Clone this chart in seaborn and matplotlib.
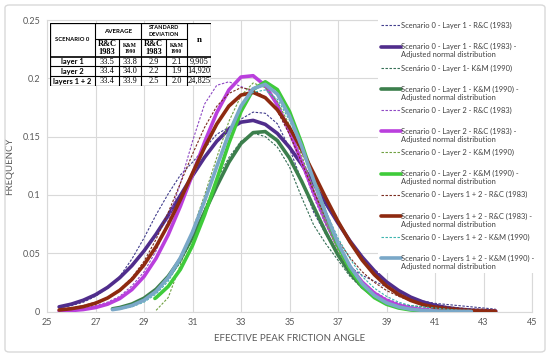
import numpy as np
import matplotlib.pyplot as plt
import seaborn as sns
from matplotlib.legend_handler import HandlerLine2D
from matplotlib.lines import Line2D
from matplotlib.patches import FancyBboxPatch, Rectangle


# ==================================================
# DATA
# ==================================================
# x grids
X_RC = [25.5, 26.0, 26.5, 27.0, 27.5, 28.0, 28.5, 29.0, 29.5, 30.0, 30.5, 31.0,
        31.5, 32.0, 32.5, 33.0, 33.5, 34.0, 34.5, 35.0, 35.5, 36.0, 36.5, 37.0,
        37.5, 38.0, 38.5, 39.0, 39.5, 40.0, 40.5, 41.0, 41.5, 42.0, 42.5, 43.0, 43.5]
X_KM1 = [27.7, 28.0, 28.5, 29.0, 29.5, 30.0, 30.5, 31.0, 31.5, 32.0, 32.5, 33.0,
         33.5, 34.0, 34.5, 35.0, 35.5, 36.0, 36.5, 37.0, 37.5, 38.0, 38.5, 39.0,
         39.5, 40.0, 40.5, 41.0, 41.5, 42.0]
X_KM12 = X_KM1 + [42.5]
X_KM2_FIT = [29.45, 29.5, 30.0, 30.5, 31.0, 31.5, 32.0, 32.5, 33.0, 33.5, 34.0, 34.5,
             35.0, 35.5, 36.0, 36.5, 37.0, 37.5, 38.0, 38.5, 39.0, 39.5, 40.0, 40.3]
X_KM2 = [29.5, 30.0, 30.5, 31.0, 31.5, 32.0, 32.5, 33.0, 33.5, 34.0, 34.5, 35.0,
         35.5, 36.0, 36.5, 37.0, 37.5, 38.0, 38.5, 39.0, 39.5, 40.0]

# layer 1
l1_rc = [0.003, 0.005, 0.008, 0.013, 0.020, 0.030, 0.045, 0.063, 0.083, 0.101, 0.117, 0.128,
         0.140, 0.152, 0.158, 0.165, 0.171, 0.170, 0.161, 0.140, 0.112, 0.085, 0.066, 0.050,
         0.038, 0.031, 0.026, 0.021, 0.016, 0.012, 0.009, 0.007, 0.006, 0.005, 0.004, 0.003, 0.002]
l1_rc_fit = [0.0040, 0.0063, 0.0097, 0.0144, 0.0207, 0.0290, 0.0393, 0.0519, 0.0664, 0.0825,
             0.0995, 0.1165, 0.1323, 0.1460, 0.1563, 0.1624, 0.1639, 0.1605, 0.1527, 0.1408,
             0.1262, 0.1097, 0.0927, 0.0759, 0.0603, 0.0466, 0.0349, 0.0254, 0.0180, 0.0123,
             0.0082, 0.0053, 0.0033, 0.0020, 0.0012, 0.0007, 0.0004]
l1_km = [0.002, 0.003, 0.006, 0.011, 0.018, 0.028, 0.042, 0.062, 0.088, 0.113, 0.132, 0.146,
         0.153, 0.150, 0.141, 0.124, 0.098, 0.074, 0.058, 0.044, 0.030, 0.020, 0.013, 0.009,
         0.006, 0.005, 0.004, 0.003, 0.002, 0.001]
l1_km_fit = [0.0023, 0.0034, 0.0064, 0.0114, 0.0191, 0.0302, 0.0451, 0.0637, 0.0851, 0.1074,
             0.1280, 0.1441, 0.1534, 0.1543, 0.1466, 0.1316, 0.1117, 0.0895, 0.0678, 0.0485,
             0.0328, 0.0210, 0.0127, 0.0072, 0.0039, 0.0020, 0.0010, 0.0005, 0.0002, 0.0001]

# layer 2
l2_rc = [0.001, 0.002, 0.003, 0.005, 0.008, 0.013, 0.022, 0.034, 0.052, 0.078, 0.110, 0.146,
         0.178, 0.194, 0.197, 0.193, 0.188, 0.184, 0.172, 0.152, 0.126, 0.098, 0.074, 0.054,
         0.038, 0.026, 0.017, 0.011, 0.007, 0.004, 0.003, 0.002, 0.002, 0.001, 0.001, 0.001, 0.001]
l2_rc_fit = [0.0004, 0.0008, 0.0017, 0.0034, 0.0063, 0.0111, 0.0188, 0.0300, 0.0457, 0.0659,
             0.0903, 0.1176, 0.1453, 0.1705, 0.1900, 0.2011, 0.2022, 0.1938, 0.1772, 0.1545,
             0.1285, 0.1019, 0.0771, 0.0556, 0.0383, 0.0252, 0.0157, 0.0094, 0.0054, 0.0029,
             0.0015, 0.0007, 0.0004, 0.0002, 0.0001, 0.0000, 0.0000]
l2_km = [0.001, 0.012, 0.040, 0.070, 0.100, 0.132, 0.163, 0.185, 0.196, 0.192, 0.180, 0.160,
         0.134, 0.104, 0.076, 0.052, 0.034, 0.021, 0.012, 0.006, 0.003, 0.001]
l2_km_fit = [0.0112, 0.0119, 0.0215, 0.0361, 0.0566, 0.0829, 0.1132, 0.1443, 0.1715, 0.1903,
             0.1970, 0.1903, 0.1715, 0.1443, 0.1132, 0.0829, 0.0566, 0.0361, 0.0215, 0.0119,
             0.0062, 0.0030, 0.0013, 0.0008]

# layers 1 + 2
l12_rc = [0.002, 0.003, 0.005, 0.008, 0.012, 0.019, 0.029, 0.043, 0.062, 0.085, 0.110, 0.135,
          0.158, 0.176, 0.187, 0.192, 0.190, 0.184, 0.172, 0.152, 0.128, 0.103, 0.080, 0.061,
          0.046, 0.034, 0.025, 0.018, 0.013, 0.009, 0.006, 0.005, 0.004, 0.003, 0.002, 0.002, 0.001]
l12_rc_fit = [0.0013, 0.0024, 0.0042, 0.0071, 0.0116, 0.0182, 0.0275, 0.0400, 0.0557, 0.0746,
              0.0959, 0.1186, 0.1408, 0.1607, 0.1762, 0.1856, 0.1879, 0.1834, 0.1730, 0.1577,
              0.1389, 0.1183, 0.0973, 0.0773, 0.0594, 0.0440, 0.0316, 0.0219, 0.0146, 0.0095,
              0.0059, 0.0036, 0.0021, 0.0012, 0.0006, 0.0003, 0.0002]
l12_km = [0.001, 0.002, 0.004, 0.008, 0.015, 0.026, 0.043, 0.066, 0.095, 0.126, 0.155, 0.176,
          0.188, 0.190, 0.182, 0.164, 0.140, 0.112, 0.086, 0.063, 0.045, 0.030, 0.020, 0.013,
          0.008, 0.005, 0.004, 0.003, 0.002, 0.001, 0.001]
l12_km_fit = [0.0016, 0.0025, 0.0051, 0.0097, 0.0173, 0.0291, 0.0460, 0.0682, 0.0949, 0.1242,
              0.1526, 0.1762, 0.1911, 0.1948, 0.1864, 0.1676, 0.1416, 0.1124, 0.0838, 0.0587,
              0.0386, 0.0238, 0.0138, 0.0075, 0.0039, 0.0019, 0.0009, 0.0004, 0.0002, 0.0001, 0.0000]

X_TICKS = [25, 27, 29, 31, 33, 35, 37, 39, 41, 43, 45]
Y_TICKS = [0, 0.05, 0.1, 0.15, 0.2, 0.25]
Y_TICK_LABELS = ["0", "0.05", "0.1", "0.15", "0.2", "0.25"]

# summary table
TABLE_ROWS = ["layer 1", "layer 2", "layers 1 + 2"]
AVG_RC = ["33.5", "33.4", "33.4"]
AVG_KM = ["33.8", "34.0", "33.9"]
SD_RC = ["2.9", "2.2", "2.5"]
SD_KM = ["2.1", "1.9", "2.0"]
N_EVENTS = ["9,905", "14,920", "24,825"]

ADJ = " -\nAdjusted normal distribution"
series = [
    (X_RC, l1_rc, "#403c8c", False, "Scenario 0 - Layer 1 - R&C (1983)"),
    (X_RC, l1_rc_fit, "#502d8c", True, "Scenario 0 - Layer 1 - R&C (1983)" + ADJ),
    (X_KM1, l1_km, "#356e55", False, "Scenário 0 - Layer 1- K&M (1990)"),
    (X_KM1, l1_km_fit, "#3c7f4c", True, "Scenario 0 - Layer 1 - K&M (1990)" + ADJ),
    (X_RC, l2_rc, "#8e48c4", False, "Scenario 0 - Layer 2 - R&C (1983)"),
    (X_RC, l2_rc_fit, "#ba3fdd", True, "Scenario 0 - Layer 2 - R&C (1983)" + ADJ),
    (X_KM2, l2_km, "#6fa040", False, "Scenario 0 - Layer 2 - K&M (1990)"),
    (X_KM2_FIT, l2_km_fit, "#3fcb3a", True, "Scenario 0 - Layer 2 - K&M (1990)" + ADJ),
    (X_RC, l12_rc, "#7a2a1e", False, "Scenario 0 - Layers 1 + 2 - R&C (1983)"),
    (X_RC, l12_rc_fit, "#8e2a10", True, "Scenario 0 - Layers 1 + 2 - R&C (1983)" + ADJ),
    (X_KM12, l12_km, "#3cb4ae", False, "Scenario 0 - Layers 1 + 2 - K&M (1990)"),
    (X_KM12, l12_km_fit, "#7aa8c8", True, "Scenario 0 - Layers 1 + 2 - K&M (1990)" + ADJ),
]


class TopAligned(HandlerLine2D):
    # put the legend sample next to the first text line
    def create_artists(self, legend, orig_handle, xdescent, ydescent,
                       width, height, fontsize, trans):
        arts = super().create_artists(legend, orig_handle, xdescent, ydescent,
                                      width, height, fontsize, trans)
        for a in arts:
            a.set_ydata(np.asarray(a.get_ydata(), float) + 0.6 * fontsize)
        return arts


# ==================================================
# FIGURE
# ==================================================
sns.set_theme(style="white")
plt.rcParams["font.family"] = ["Lato", "DejaVu Sans"]

fig = plt.figure(figsize=(5.5, 3.57), dpi=100)
ax = fig.add_axes([47 / 550, 1 - 311.5 / 357, 485 / 550, 291.5 / 357])

for i, (x, y, color, fitted, label) in enumerate(series):
    if fitted:
        sns.lineplot(x=x, y=y, ax=ax, color=color, linewidth=2.6,
                     label=label, zorder=3 + i)
    else:
        sns.lineplot(x=x, y=y, ax=ax, color=color, linewidth=0.8,
                     linestyle=(0, (2.2, 1.4)), label=label + "\n ", zorder=3 + i)

ax.set_xlim(25, 45)
ax.set_ylim(0, 0.25)
ax.set_xticks(X_TICKS)
ax.set_yticks(Y_TICKS)
ax.set_yticklabels(Y_TICK_LABELS)
ax.grid(True, color="#d9d9d9", linewidth=0.8)
ax.set_axisbelow(True)
for s in ax.spines.values():
    s.set_color("#d9d9d9")
    s.set_linewidth(0.8)
ax.tick_params(length=0, labelsize=6.5, labelcolor="#595959", pad=5)
ax.set_xlabel("EFECTIVE PEAK FRICTION ANGLE", fontsize=7, color="#595959", labelpad=5)
ax.set_ylabel("FREQUENCY", fontsize=7, color="#595959", labelpad=6)

handles, labels = ax.get_legend_handles_labels()
leg = ax.legend(handles, labels, handler_map={Line2D: TopAligned()},
                loc="upper left", bbox_to_anchor=(378 / 550, 1 - 19 / 357),
                bbox_transform=fig.transFigure, fontsize=5.4, frameon=True,
                fancybox=False, framealpha=1, edgecolor="none", facecolor="white",
                borderpad=0.4, labelspacing=0.81, handlelength=2.6,
                handletextpad=0.1, borderaxespad=0)
for t in leg.get_texts():
    t.set_color("#404040")
    t.set_linespacing(1.15)

# outer chart border
fig.patches.append(FancyBboxPatch((5 / 550, 5 / 357), 540 / 550, 347 / 357,
                                  boxstyle="round,pad=0,rounding_size=0.008",
                                  transform=fig.transFigure, fc="none",
                                  ec="#d9d9d9", lw=1.0))

# ==================================================
# SUMMARY TABLE
# ==================================================
tax = fig.add_axes([50 / 550, 1 - 86 / 357, 161 / 550, 63.3 / 357])
tax.set_xlim(0, 161)
tax.set_ylim(63.3, 0)
tax.axis("off")
tax.add_patch(Rectangle((0, 0), 161, 63.3, fc="white", ec="black", lw=0.9))
kw = dict(color="black", lw=0.8)
for xv in [45, 91, 137]:
    tax.vlines(xv, 0, 63.3, **kw)
for xv in [69, 116]:
    tax.vlines(xv, 16.6, 63.3, **kw)
tax.hlines(16.6, 45, 137, **kw)
tax.hlines(34, 0, 161, color="black", lw=1.2)
for yv in [43.3, 53.3]:
    tax.hlines(yv, 0, 161, **kw)

sans_b = dict(ha="center", va="center", fontweight="bold", color="black")
serif = dict(ha="center", va="center", family="Liberation Serif", color="black")
tax.text(22.5, 17, "SCENARIO 0", fontsize=4.2, **sans_b)
tax.text(68, 8.5, "AVERAGE", fontsize=4.4, **sans_b)
tax.text(114, 8.5, "STANDARD\nDEVIATION", fontsize=4.0, linespacing=1.4, **sans_b)
for cx in [57, 103.5]:
    tax.text(cx, 25.5, "R&C\n1983", fontsize=6, fontweight="bold", linespacing=0.95, **serif)
for cx in [80, 126.5]:
    tax.text(cx, 25.5, "K&M\n1990", fontsize=4, fontweight="bold", linespacing=1.3, **serif)
tax.text(149, 17, "n", fontsize=6.5, fontweight="bold", **serif)

row_y = [38.8, 48.4, 58.4]
for i, ry in enumerate(row_y):
    tax.text(22.5, ry, TABLE_ROWS[i], fontsize=5.4, **sans_b)
    tax.text(57, ry, AVG_RC[i], fontsize=6, **serif)
    tax.text(80, ry, AVG_KM[i], fontsize=6, **serif)
    tax.text(103.5, ry, SD_RC[i], fontsize=6, **serif)
    tax.text(126.5, ry, SD_KM[i], fontsize=6, **serif)
    tax.text(149, ry, N_EVENTS[i], fontsize=6, **serif)

fig.savefig("out.png", dpi=100)
